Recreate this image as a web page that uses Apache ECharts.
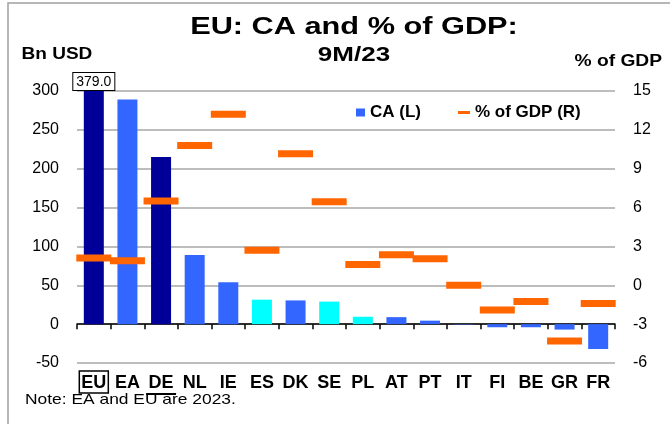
<!DOCTYPE html>
<html>
<head>
<meta charset="utf-8">
<script src="https://cdn.jsdelivr.net/npm/echarts@6/dist/echarts.min.js"></script>
<style>
  html, body { margin: 0; padding: 0; background: #fff; }
  #chart { width: 670px; height: 424px; }
</style>
</head>
<body>
<div id="chart"></div>
<script>
const countries = ['EU', 'EA', 'DE', 'NL', 'IE', 'ES', 'DK', 'SE', 'PL', 'AT', 'PT', 'IT', 'FI', 'BE', 'GR', 'FR']
// current account, bn USD (left axis)
const caBnUsd = [379.0, 289, 215, 89, 54, 31.5, 30.5, 29, 9.5, 9, 4.5, -0.5, -4, -4, -7, -32]
// current account, % of GDP (right axis)
const caPctGdp = [2.1, 1.9, 6.5, 10.8, 13.2, 2.7, 10.15, 6.45, 1.6, 2.35, 2.05, 0, -1.9, -1.25, -4.3, -1.4]

const NAVY = '#000099'
const BLUE = '#3366FF'
const CYAN = '#00FFFF'
const ORANGE = '#FF6600'
const barColors = [NAVY, BLUE, NAVY, BLUE, BLUE, CYAN, BLUE, CYAN, CYAN, BLUE, BLUE, BLUE, BLUE, BLUE, BLUE, BLUE]

const FONT = '"Liberation Sans", Arial, sans-serif'

const chart = echarts.init(document.getElementById('chart'))

function headText(text, x, y, size, weight, scaleX, align) {
  return {
    type: 'text',
    x: x,
    y: y,
    scaleX: scaleX,
    silent: true,
    style: {
      text: text,
      x: 0,
      y: 0,
      fill: '#000',
      fontFamily: FONT,
      fontSize: size,
      fontWeight: weight,
      align: align,
      textAlign: align,
      verticalAlign: 'middle',
      textVerticalAlign: 'middle'
    }
  }
}

const option = {
  backgroundColor: '#fff',
  animation: false,
  textStyle: { fontFamily: FONT },
  grid: { left: 77, right: 55, top: 91, bottom: 61, containLabel: false, outerBoundsMode: 'none' },
  graphic: [
    {
      type: 'rect',
      silent: true,
      shape: { x: 8, y: 3, width: 700, height: 500 },
      style: { fill: 'none', stroke: '#A0A0A0', lineWidth: 1.5 }
    },
    headText('EU: CA and % of GDP:', 354, 27, 24, 'bold', 1.28, 'center'),
    headText('9M/23', 354, 55.5, 20, 'bold', 1.3, 'center'),
    headText('Bn USD', 21.5, 54.5, 16, 'bold', 1.19, 'left'),
    headText('% of GDP', 662, 62, 16, 'bold', 1.2, 'right'),
    headText('Note: EA and EU are 2023.', 25, 399.5, 15, 'normal', 1.16, 'left')
  ],
  legend: [
    {
      data: [{ name: 'CA (L)', icon: 'rect' }],
      left: 356,
      top: 104,
      itemWidth: 9,
      itemHeight: 8,
      itemGap: 0,
      padding: 0,
      textStyle: { fontFamily: FONT, fontSize: 17, fontWeight: 'bold', color: '#000' }
    },
    {
      data: [{ name: '% of GDP (R)', icon: 'rect' }],
      left: 458,
      top: 104,
      itemWidth: 12,
      itemHeight: 3,
      itemGap: 0,
      padding: 0,
      textStyle: { fontFamily: FONT, fontSize: 17, fontWeight: 'bold', color: '#000' }
    }
  ],
  xAxis: {
    type: 'category',
    data: countries,
    boundaryGap: true,
    axisLine: { onZero: true, lineStyle: { color: '#000', width: 1.5 } },
    axisTick: { show: true, length: 5, lineStyle: { color: '#000', width: 1.5 } },
    axisLabel: {
      interval: 0,
      margin: 8,
      color: '#000',
      fontFamily: FONT,
      fontSize: 18,
      fontWeight: 'bold',
      formatter: function (v) {
        if (v === 'EU') return '{box|EU}'
        if (v === 'DE') return '{n|DE}\n{line| }'
        return '{n|' + v + '}'
      },
      rich: {
        n: { fontFamily: FONT, fontSize: 18, fontWeight: 'bold', color: '#000', padding: [3, 2, 1, 2] },
        box: {
          fontFamily: FONT, fontSize: 18, fontWeight: 'bold', color: '#000',
          padding: [3, 2, 1, 2], borderColor: '#000', borderWidth: 1.5
        },
        line: { width: 30, height: 2, lineHeight: 2, fontSize: 1, backgroundColor: '#000' }
      }
    },
    splitLine: { show: false }
  },
  yAxis: [
    {
      type: 'value',
      min: -50,
      max: 300,
      interval: 50,
      axisLine: { show: false },
      axisTick: { show: false },
      axisLabel: { margin: 18, color: '#000', fontFamily: FONT, fontSize: 16 },
      splitLine: { show: true, lineStyle: { color: '#BDBDBD', width: 2, type: 'solid' } }
    },
    {
      type: 'value',
      min: -6,
      max: 15,
      interval: 3,
      axisLine: { show: false },
      axisTick: { show: false },
      axisLabel: { margin: 18, color: '#000', fontFamily: FONT, fontSize: 16 },
      splitLine: { show: false }
    }
  ],
  series: [
    {
      name: 'CA (L)',
      type: 'bar',
      yAxisIndex: 0,
      barWidth: 20,
      clip: true,
      itemStyle: { color: BLUE },
      data: caBnUsd.map((v, i) => ({
        value: v,
        itemStyle: { color: barColors[i] },
        label: i === 0 ? {
          show: true,
          position: 'top',
          distance: 1,
          formatter: v.toFixed(1),
          fontFamily: FONT,
          fontSize: 14,
          color: '#000',
          backgroundColor: '#fff',
          borderColor: '#000',
          borderWidth: 1,
          padding: [2, 3, 1, 3]
        } : { show: false }
      })),
      silent: true,
      z: 2
    },
    {
      name: '% of GDP (R)',
      type: 'scatter',
      yAxisIndex: 1,
      symbol: 'rect',
      symbolSize: [35, 7],
      itemStyle: { color: ORANGE, opacity: 1 },
      data: caPctGdp,
      silent: true,
      z: 3
    }
  ]
}

chart.setOption(option)
</script>
</body>
</html>
